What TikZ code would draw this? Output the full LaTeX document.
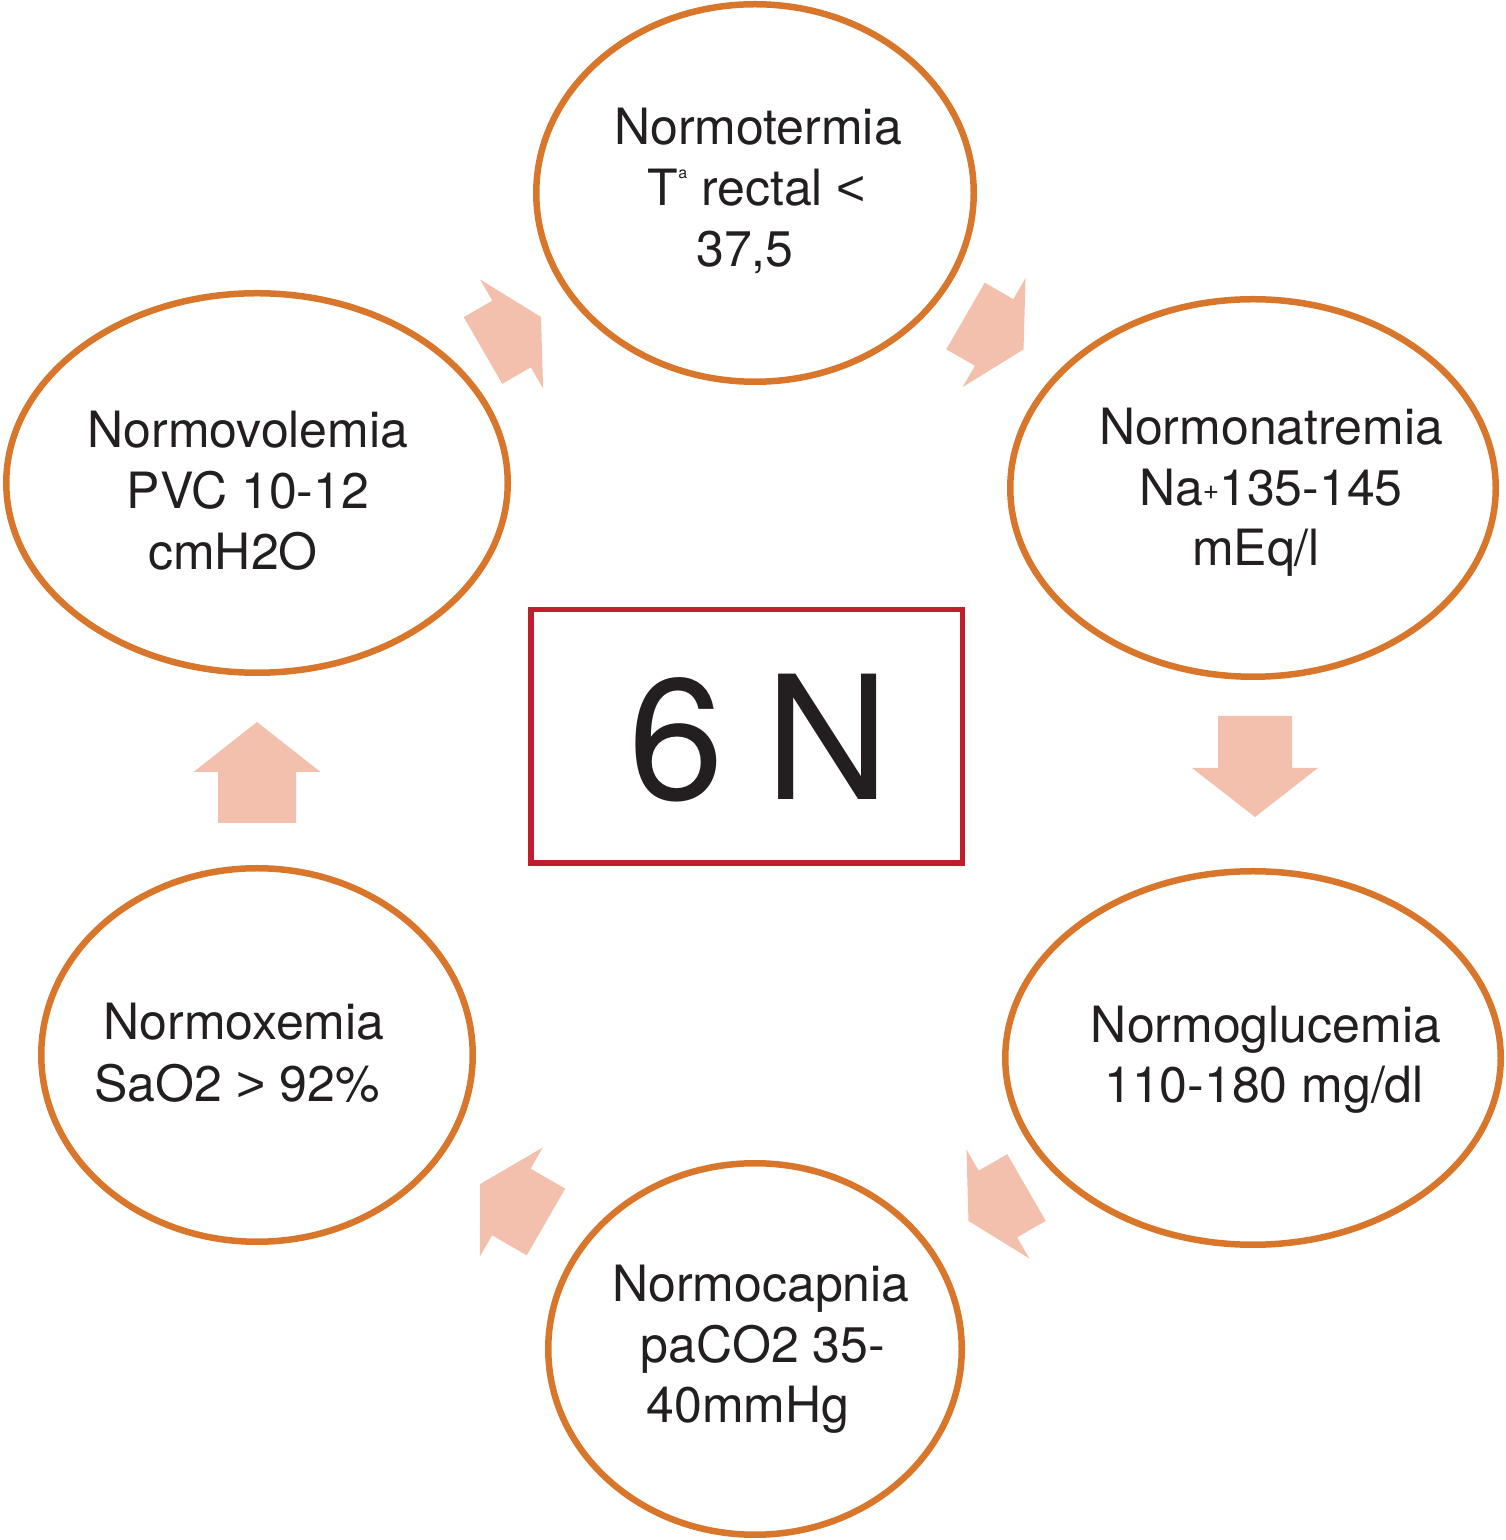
\documentclass[tikz,border=0pt]{standalone}
\usepackage{fontspec}
\setmainfont{TeX Gyre Heros}
\newfontfamily\relfont{Liberation Sans}
\usetikzlibrary{shapes.geometric}
\definecolor{ringorange}{RGB}{216,118,44}
\definecolor{boxred}{RGB}{192,30,45}
\definecolor{arrowsalmon}{RGB}{243,192,174}
\definecolor{inkblack}{RGB}{35,31,32}
\tikzset{
  pics/blkarrow/.style n args={4}{code={
    \fill[arrowsalmon] (0,{-#1/2}) -- (#2,{-#1/2}) -- (#2,{-#3/2}) -- ({#2+#4},0)
      -- (#2,{#3/2}) -- (#2,{#1/2}) -- (0,{#1/2}) -- cycle;}}
}
\begin{document}
\begin{tikzpicture}[x=1pt,y=1pt,
  ring/.style={draw=ringorange, line width=6.5pt, ellipse, inner sep=0pt},
  lbl/.style={anchor=base, inner sep=0pt, text=inkblack, font=\fontsize{50}{61}\selectfont}]
\useasboundingbox (0,0) rectangle (1506,1540);

% ellipses
\node[ring, minimum width=437.5, minimum height=377.5] (eT)  at (755,1347) {};
\node[ring, minimum width=485.5, minimum height=377.5] (eRU) at (1253,1052) {};
\node[ring, minimum width=501.5, minimum height=379.5] (eLU) at (257,1057) {};
\node[ring, minimum width=495.5, minimum height=373.5] (eRL) at (1253,482) {};
\node[ring, minimum width=431.5, minimum height=373.5] (eLL) at (257,485) {};
\node[ring, minimum width=413.5, minimum height=371.5] (eB)  at (755,191) {};

% texts
\node[lbl] (tT1) at (758,1395) {Normotermia};
\node[lbl] (tT2) at (757,1334) {T\raisebox{27pt}{\fontsize{16}{16}\selectfont a} rectal {\relfont <}};
\node[lbl] (tT3) at (745,1273) {37,5};

\node[lbl] (tRU1) at (1271,1095) {Normonatremia};
\node[lbl] (tRU2) at (1271,1034) {Na{\fontsize{28}{28}\selectfont\raisebox{6pt}{+}}135-145};
\node[lbl] (tRU3) at (1256,974) {mEq/l};

\node[lbl] (tLU1) at (248,1092) {Normovolemia};
\node[lbl] (tLU2) at (248,1031) {PVC 10-12};
\node[lbl] (tLU3) at (233,970) {cmH2O};

\node[lbl] (tRL1) at (1266,497) {Normoglucemia};
\node[lbl] (tRL2) at (1264,437) {110-180 mg/dl};

\node[lbl] (tLL1) at (244,500) {Normoxemia};
\node[lbl] (tLL2) at (237,438) {SaO2 {\relfont >} 92\%};

\node[lbl] (tB1) at (761,238) {Normocapnia};
\node[lbl] (tB2) at (763,177) {paCO2 35-};
\node[lbl] (tB3) at (748,117) {40mmHg};

% central box
\node[draw=boxred, line width=5.5pt, minimum width=431.5, minimum height=253.5, inner sep=0pt] (box) at (746.5,803.5) {};
\node[anchor=base, inner sep=0pt, text=inkblack, font=\fontsize{172}{172}\selectfont] (sixn) at (759,740) {6\hspace{-6pt} N};

% block arrows
\pic[rotate=30]  at (483,1189.5) {blkarrow={77}{33}{126}{34}};
\pic[rotate=-30] at (965.5,1224) {blkarrow={77}{33}{126}{34}};
\pic[rotate=-90] at (1255,824)   {blkarrow={74}{52}{126}{49}};
\pic[rotate=210] at (1026.5,352.5) {blkarrow={77}{33}{126}{34}};
\pic[rotate=150] at (546,318)    {blkarrow={77}{40}{126}{36}};
\pic[rotate=90]  at (257,717)    {blkarrow={78}{51}{127}{50}};
\end{tikzpicture}
\end{document}
